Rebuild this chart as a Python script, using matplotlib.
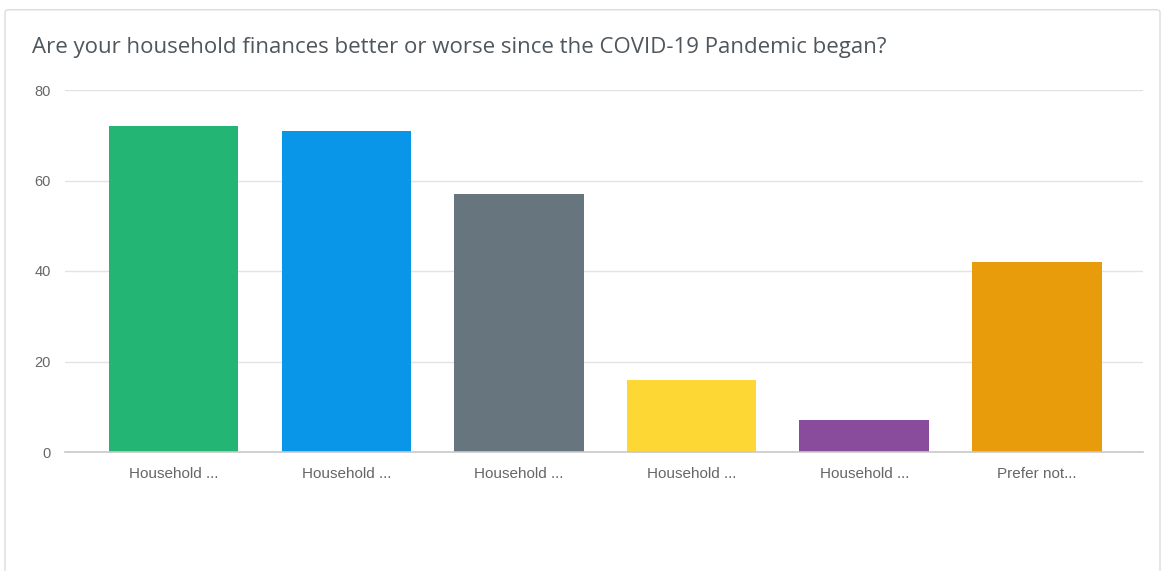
import matplotlib
matplotlib.use("Agg")
import matplotlib.pyplot as plt
from matplotlib.patches import FancyBboxPatch

title = "Are your household finances better or worse since the COVID-19 Pandemic began?"
labels = ["Household ...", "Household ...", "Household ...", "Household ...", "Household ...", "Prefer not..."]
values = [72, 71, 57, 16, 7, 42]
colors = ["#22b573", "#0996e8", "#67757e", "#fdd835", "#894b9c", "#e89c0c"]
yticks = [0, 20, 40, 60, 80]

fig = plt.figure(figsize=(11.69, 5.71), dpi=100)
fig.patch.set_facecolor("white")

# card border (behind the axes)
card = FancyBboxPatch((5 / 1169, -0.05), 1155 / 1169, 1.04 - 4 / 571,
                      boxstyle="round,pad=0,rounding_size=0.004",
                      transform=fig.transFigure, facecolor="white",
                      edgecolor="#dcdcdc", linewidth=1.0, zorder=-5)
fig.patches.append(card)

ax = fig.add_axes([65 / 1169, 1 - 452 / 571, (1143 - 65) / 1169, (452 - 90) / 571])
ax.set_facecolor("none")
ax.set_zorder(2)

x = list(range(len(values)))
ax.bar(x, values, width=0.75, color=colors, zorder=3)

ax.set_xlim(-0.63, len(values) - 1 + 0.615)
ax.set_ylim(0, 80)
ax.set_yticks(yticks)
ax.set_xticks(x)
ax.set_xticklabels(labels)

for t in yticks:
    if t:
        ax.axhline(t, color="#e3e3e3", linewidth=1.0, zorder=1)
    else:
        ax.axhline(t, color="#c8c8c8", linewidth=1.2, zorder=4, clip_on=False)

for s in ax.spines.values():
    s.set_visible(False)

ax.tick_params(axis="both", length=0, labelcolor="#666666")
ax.tick_params(axis="y", pad=10, labelsize=10.5)
ax.tick_params(axis="x", pad=11, labelsize=11)
for lab in ax.get_xticklabels() + ax.get_yticklabels():
    lab.set_fontfamily("Liberation Sans")

fig.text(32 / 1169, 1 - 47 / 571, title, fontsize=16, color="#4f565c",
         fontfamily="Open Sans", va="center", ha="left")

fig.savefig("out.png", dpi=100)
